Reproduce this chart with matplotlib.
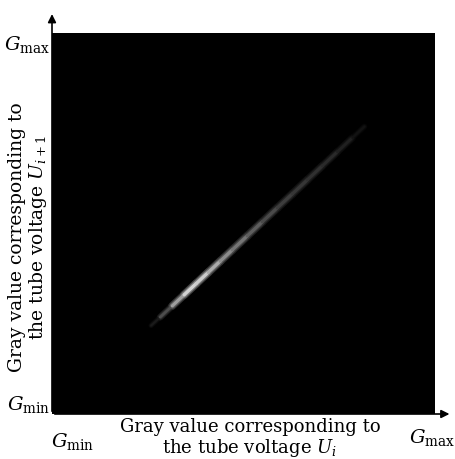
import matplotlib
matplotlib.use("Agg")
import matplotlib.pyplot as plt
import numpy as np
from matplotlib.collections import LineCollection

plt.rcParams["font.family"] = ["DejaVu Serif"]
plt.rcParams["mathtext.fontset"] = "dejavuserif"

# ridge of the joint gray-level histogram (gray units 0..255)
ridge_x = [66, 72, 80, 88, 96, 104, 112, 120, 130, 140, 150, 160, 170, 180, 190, 200, 208]
ridge_y = [59.2, 64.8, 72.3, 79.8, 87.3, 94.8, 102.3, 109.8, 119.2, 128.6, 138.0, 147.3,
           156.7, 166.1, 175.5, 184.9, 192.4]
brightness = [0.05, 0.15, 0.45, 0.8, 0.85, 0.75, 0.6, 0.5, 0.42, 0.32, 0.26, 0.22,
              0.2, 0.18, 0.15, 0.1, 0.04]
spread_px = [3, 4, 5, 5.5, 5.5, 5.5, 5.5, 5.5, 5.5, 5.5, 5.5, 5.5, 5.5, 5, 5, 4.5, 3.5]

tick_min = "$G_{\\rm min}$"
tick_max = "$G_{\\rm max}$"
xlabel = "Gray value corresponding to\nthe tube voltage $U_i$"
ylabel = "Gray value corresponding to\nthe tube voltage $U_{i+1}$"

fig = plt.figure(figsize=(4.56, 4.59), dpi=100)
ax = fig.add_axes([52 / 456, 45 / 459, 383 / 456, 381 / 459])
ax.set_facecolor("black")
ax.set_xlim(0, 255)
ax.set_ylim(0, 255)
ax.set_xticks([])
ax.set_yticks([])
for s in ax.spines.values():
    s.set_visible(False)

pts = np.column_stack([ridge_x, ridge_y])
segs = np.stack([pts[:-1], pts[1:]], axis=1)
b = (np.array(brightness[:-1]) + np.array(brightness[1:])) / 2
w = (np.array(spread_px[:-1]) + np.array(spread_px[1:])) / 2 * 0.72
# soft outer glow, mid band, bright core
for scale_w, scale_b in [(1.5, 0.3), (1.05, 0.6), (0.6, 1.0)]:
    lc = LineCollection(segs, colors=[(min(v * scale_b, 1),) * 3 for v in b],
                        linewidths=w * scale_w, capstyle="round")
    ax.add_collection(lc)

# axis arrows
ax.annotate("", xy=(0, 1.057), xytext=(0, 0), xycoords="axes fraction",
            arrowprops=dict(arrowstyle="-|>", color="black", lw=1.2, mutation_scale=12))
ax.annotate("", xy=(1.045, 0), xytext=(0, 0), xycoords="axes fraction",
            arrowprops=dict(arrowstyle="-|>", color="black", lw=1.2, mutation_scale=12))

fs_tick = 14
ax.text(-0.004, 0.97, tick_max, transform=ax.transAxes, ha="right", va="center", fontsize=fs_tick)
ax.text(-0.004, 0.026, tick_min, transform=ax.transAxes, ha="right", va="center", fontsize=fs_tick)
ax.text(0.055, -0.071, tick_min, transform=ax.transAxes, ha="center", va="center", fontsize=fs_tick)
ax.text(0.992, -0.062, tick_max, transform=ax.transAxes, ha="center", va="center", fontsize=fs_tick)

ax.text(0.517, -0.01, xlabel, transform=ax.transAxes, ha="center", va="top",
        fontsize=13, linespacing=1.05)
fig.text(8 / 456, 1 - 237 / 459, ylabel, rotation=90, ha="left", va="center",
         fontsize=13.5, linespacing=1.05, multialignment="center")

fig.savefig("out.png", dpi=100)
